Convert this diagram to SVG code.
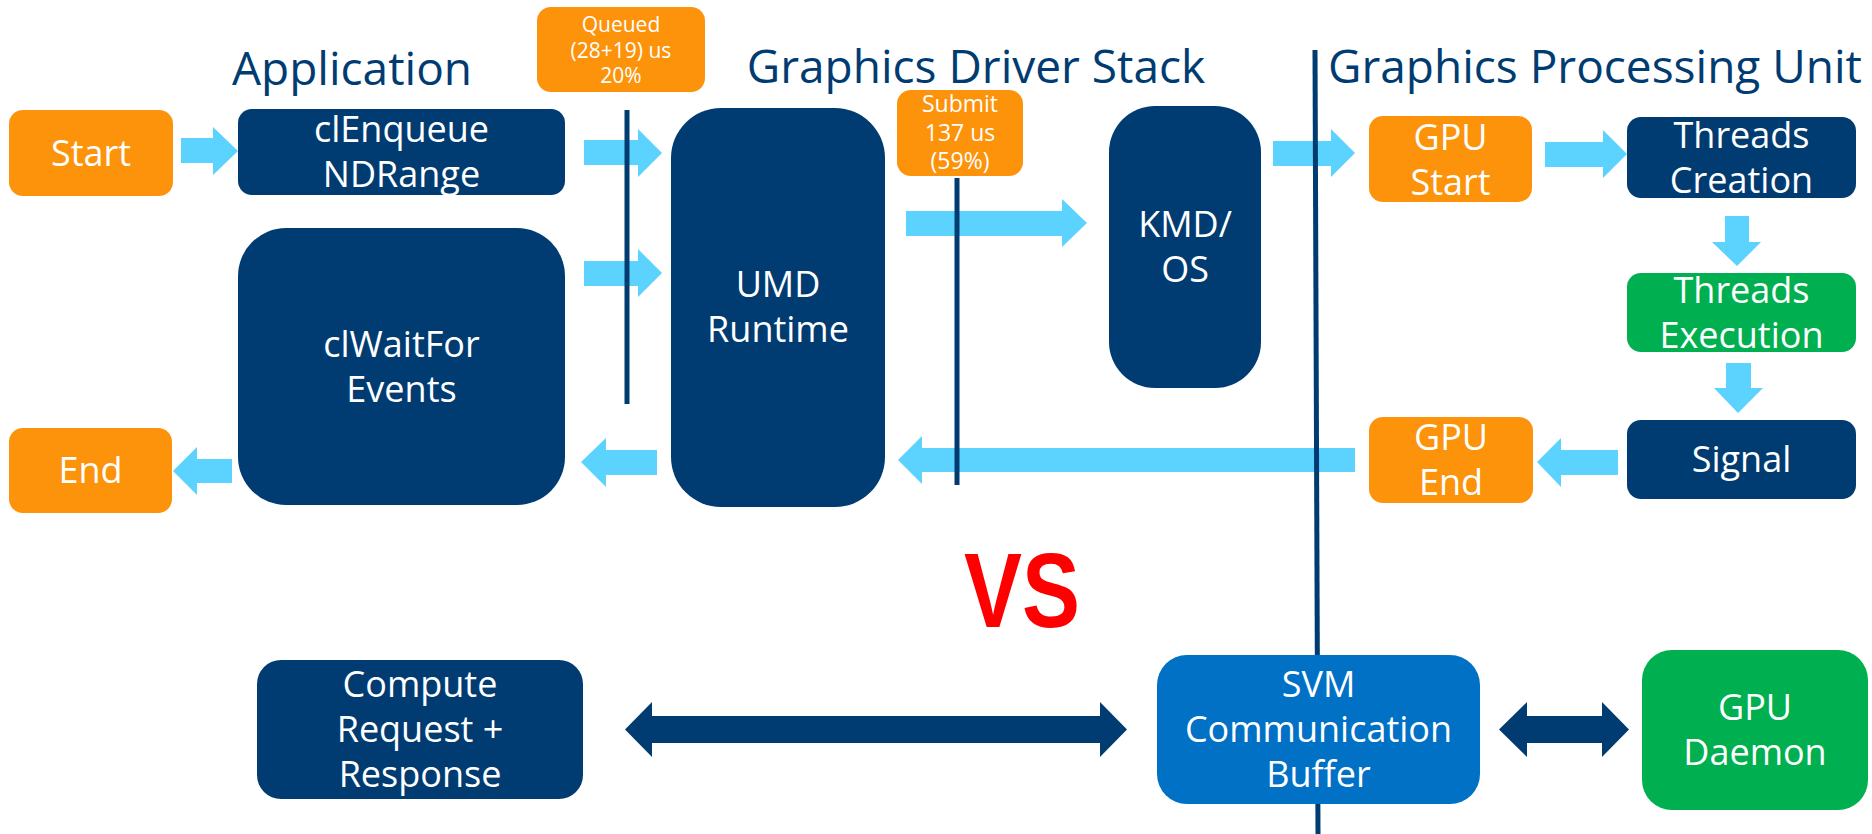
<svg xmlns="http://www.w3.org/2000/svg" width="1872" height="834" viewBox="0 0 1872 834">
  <style>
    .navy { fill: #003C71; }
    .orange { fill: #FD920B; }
    .green { fill: #00B050; }
    .blue { fill: #0071C5; }
    .flow { fill: #5CD2FE; }
    .link { fill: #003C71; }
    .lane { stroke: #003C71; stroke-width: 5; fill: none; }
    .title { font-family: "Open Sans", "Noto Sans", sans-serif; font-size: 46px; fill: #003C71; text-anchor: middle; }
    .lbl { font-family: "Open Sans", "Noto Sans", sans-serif; font-size: 36px; fill: #FFFFFF; text-anchor: middle; }
    .note { font-family: "Open Sans", "Noto Sans", sans-serif; fill: #FFFFFF; text-anchor: middle; }
    .vs { font-family: "Liberation Sans", Arial, sans-serif; font-weight: bold; font-size: 106px; fill: #FF0000; text-anchor: middle; }
  </style>

  <rect width="1872" height="834" fill="#FFFFFF"/>

  <!-- column headings -->
  <g id="headings">
    <text class="title" x="352" y="85">Application</text>
    <text class="title" x="976" y="83">Graphics Driver Stack</text>
    <text class="title" x="1595" y="83">Graphics Processing Unit</text>
  </g>

  <!-- flow arrows -->
  <g id="connectors">
    <polygon class="flow" points="181,138 213,138 213,127 238,151 213,175 213,163 181,163"/>
    <polygon class="flow" points="584,140 638,140 638,129 662,153 638,177 638,165 584,165"/>
    <polygon class="flow" points="584,261 638,261 638,249 662,273 638,297 638,286 584,286"/>
    <polygon class="flow" points="906,211 1062,211 1062,199 1087,223 1062,247 1062,236 906,236"/>
    <polygon class="flow" points="1273,141 1331,141 1331,129 1355,153 1331,177 1331,166 1273,166"/>
    <polygon class="flow" points="1545,142 1603,142 1603,130 1627,154 1603,178 1603,167 1545,167"/>
    <polygon class="flow" points="1725,216 1749,216 1749,242 1761,242 1737,266 1712,242 1725,242"/>
    <polygon class="flow" points="1726,363 1751,363 1751,388 1763,388 1738,413 1714,388 1726,388"/>
    <polygon class="flow" points="1618,450 1561,450 1561,438 1537,462 1561,487 1561,475 1618,475"/>
    <polygon class="flow" points="1355,448 922,448 922,436 898,460 922,484 922,472 1355,472"/>
    <polygon class="flow" points="657,450 606,450 606,438 581,462 606,487 606,475 657,475"/>
    <polygon class="flow" points="232,459 197,459 197,447 173,471 197,495 197,483 232,483"/>
    <polygon class="link" points="625,729.5 652,702 652,716 1100,716 1100,702 1127,729.5 1100,757 1100,743 652,743 652,757"/>
    <polygon class="link" points="1499,729.5 1527,702 1527,716 1602,716 1602,702 1629,729.5 1602,757 1602,743 1527,743 1527,757"/>
  </g>

  <!-- boundary lines -->
  <g id="boundaries">
    <line class="lane" x1="627" y1="110" x2="627" y2="404"/>
    <line class="lane" x1="957" y1="178" x2="957" y2="485"/>
    <line class="lane" x1="1315" y1="50" x2="1318" y2="834"/>
  </g>

  <!-- timing notes -->
  <g id="queued">
    <rect class="orange" x="537" y="7" width="168" height="85" rx="14"/>
    <text class="note" font-size="21" x="621" y="32">Queued</text>
    <text class="note" font-size="21" x="621" y="58">(28+19) us</text>
    <text class="note" font-size="21" x="621" y="83">20%</text>
  </g>
  <g id="submit">
    <rect class="orange" x="897" y="90" width="126" height="86" rx="14"/>
    <text class="note" font-size="23" x="960" y="112">Submit</text>
    <text class="note" font-size="23" x="960" y="140.5">137 us</text>
    <text class="note" font-size="23" x="960" y="169">(59%)</text>
  </g>

  <!-- application -->
  <g id="start">
    <rect class="orange" x="9" y="110" width="164" height="86" rx="14"/>
    <text class="lbl" x="91" y="166">Start</text>
  </g>
  <g id="clEnqueueNDRange">
    <rect class="navy" x="238" y="109" width="327" height="86" rx="14"/>
    <text class="lbl" x="401.5" y="142">clEnqueue</text>
    <text class="lbl" x="401.5" y="187">NDRange</text>
  </g>
  <g id="clWaitForEvents">
    <rect class="navy" x="238" y="228" width="327" height="277" rx="48"/>
    <text class="lbl" x="401.5" y="357">clWaitFor</text>
    <text class="lbl" x="401.5" y="402">Events</text>
  </g>
  <g id="end">
    <rect class="orange" x="9" y="428" width="163" height="85" rx="14"/>
    <text class="lbl" x="90.5" y="483">End</text>
  </g>

  <!-- driver stack -->
  <g id="umdRuntime">
    <rect class="navy" x="671" y="108" width="214" height="399" rx="50"/>
    <text class="lbl" x="778" y="297">UMD</text>
    <text class="lbl" x="778" y="342">Runtime</text>
  </g>
  <g id="kmdOs">
    <rect class="navy" x="1109" y="106" width="152" height="282" rx="46"/>
    <text class="lbl" x="1185" y="237">KMD/</text>
    <text class="lbl" x="1185" y="282">OS</text>
  </g>

  <!-- GPU -->
  <g id="gpuStart">
    <rect class="orange" x="1369" y="116" width="163" height="86" rx="14"/>
    <text class="lbl" x="1450.5" y="149.5">GPU</text>
    <text class="lbl" x="1450.5" y="194.5">Start</text>
  </g>
  <g id="threadsCreation">
    <rect class="navy" x="1627" y="117" width="229" height="81" rx="14"/>
    <text class="lbl" x="1741.5" y="148">Threads</text>
    <text class="lbl" x="1741.5" y="193">Creation</text>
  </g>
  <g id="threadsExecution">
    <rect class="green" x="1627" y="273" width="229" height="79" rx="14"/>
    <text class="lbl" x="1741.5" y="303">Threads</text>
    <text class="lbl" x="1741.5" y="348">Execution</text>
  </g>
  <g id="signal">
    <rect class="navy" x="1627" y="420" width="229" height="79" rx="14"/>
    <text class="lbl" x="1741.5" y="472">Signal</text>
  </g>
  <g id="gpuEnd">
    <rect class="orange" x="1369" y="417" width="164" height="86" rx="14"/>
    <text class="lbl" x="1451" y="450">GPU</text>
    <text class="lbl" x="1451" y="495">End</text>
  </g>

  <!-- comparison -->
  <g id="versus">
    <text class="vs" transform="translate(1022,627) scale(0.82,1)" x="0" y="0">VS</text>
  </g>
  <g id="computeRequest">
    <rect class="navy" x="257" y="660" width="326" height="139" rx="24"/>
    <text class="lbl" x="420" y="697">Compute</text>
    <text class="lbl" x="420" y="742">Request +</text>
    <text class="lbl" x="420" y="787">Response</text>
  </g>
  <g id="svmBuffer">
    <rect class="blue" x="1157" y="655" width="323" height="149" rx="30"/>
    <text class="lbl" x="1318.5" y="697">SVM</text>
    <text class="lbl" x="1318.5" y="742">Communication</text>
    <text class="lbl" x="1318.5" y="787">Buffer</text>
  </g>
  <g id="gpuDaemon">
    <rect class="green" x="1642" y="650" width="226" height="160" rx="30"/>
    <text class="lbl" x="1755" y="720">GPU</text>
    <text class="lbl" x="1755" y="765">Daemon</text>
  </g>
</svg>
